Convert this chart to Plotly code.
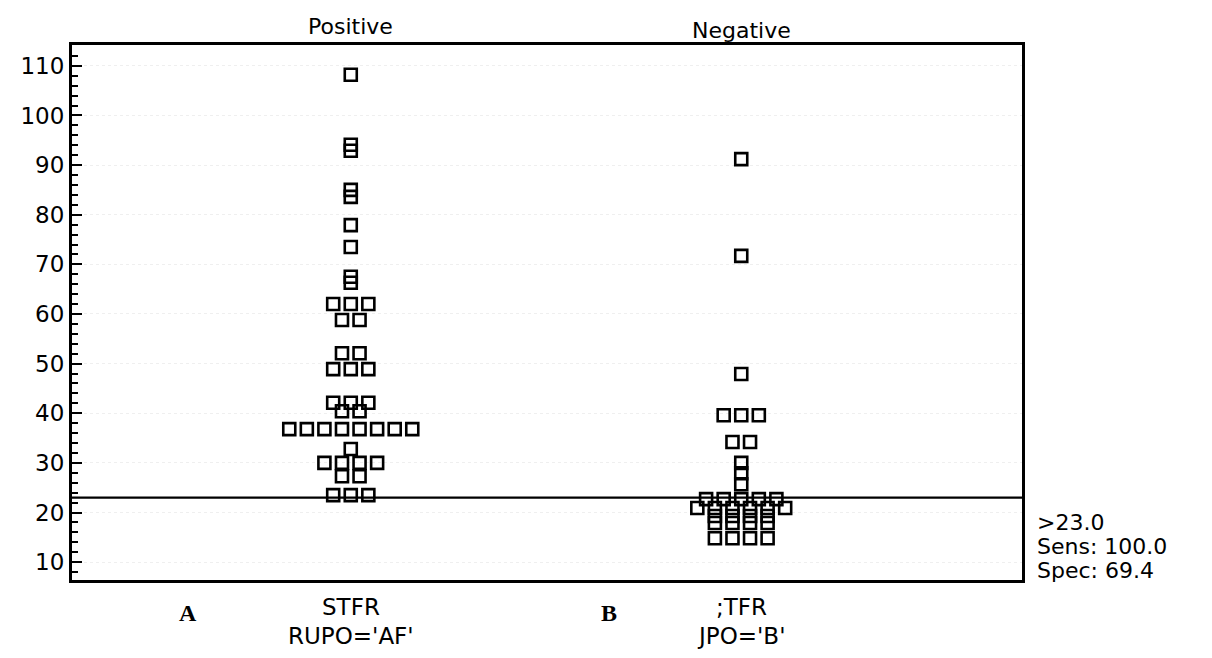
import numpy as np
import plotly.graph_objects as go

# ---- data ----
groups = ["Positive", "Negative"]
pos_values = ([108.2, 94.1, 92.9, 85.0, 83.6, 77.9, 73.5, 67.5, 66.3]
              + [62.0] * 3 + [58.8] * 2 + [52.1] * 2 + [48.9] * 3
              + [42.1] * 3 + [40.4] * 2 + [36.8] * 8 + [32.8]
              + [30.0] * 4 + [27.3] * 2 + [23.5] * 3)
neg_values = ([91.2, 71.7, 47.9] + [39.6] * 3 + [34.2] * 2
              + [30.0, 27.9, 25.7] + [22.7] * 5 + [20.9] * 6
              + [19.3] * 4 + [17.9] * 4 + [14.8] * 4)
cutoff = 23.0
sens = 100.0
spec = 69.4
y_ticks = list(range(10, 111, 10))
bottom_labels = [("STFR", "RUPO='AF'"), (";TFR", "JPO='B'")]
panel_letters = ["A", "B"]

# ---- layout geometry (page has a body margin) ----
OFFX, OFFY = 11, 8
W, H = 1212 - 2 * OFFX, 658 - 2 * OFFY
PL, PT, PR, PB = 64, 45, 1025, 580          # plot box in window pixels
L, T = PL - OFFX, PT - OFFY
PW, PH = PR - PL, PB - PT
R, B = W - L - PW, H - T - PH
STEP = 0.045
C0, C1 = 346, 741                            # column centres in window pixels
unit = C1 - C0
x_range = [-(C0 - PL) / unit, (PR - C0) / unit]


def px_x(px):
    return (px - PL) / PW


def px_y(py):
    return (PB - py) / PH


def dot_offsets(values, step):
    vals = np.array(values)
    offs = np.zeros(len(vals))
    for v in np.unique(vals):
        idx = np.where(vals == v)[0]
        n = len(idx)
        offs[idx] = (np.arange(n) - (n - 1) / 2) * step
    return offs


fig = go.Figure()
for gi, vals in enumerate([pos_values, neg_values]):
    xs = gi + dot_offsets(vals, STEP)
    fig.add_trace(go.Scatter(
        x=xs, y=vals, mode="markers", name=groups[gi],
        marker=dict(symbol="square-open", size=12, color="black",
                    line=dict(width=2.6, color="black")),
        showlegend=False, hoverinfo="y"))

fig.add_shape(type="line", xref="paper", x0=0, x1=1, yref="y",
              y0=cutoff, y1=cutoff, line=dict(color="black", width=2.2))

font = "DejaVu Sans, Arial, sans-serif"
ann = []
for gi, g in enumerate(groups):
    ann.append(dict(x=gi, xref="x", y=px_y(26 if gi == 0 else 30), yref="paper",
                    text=g, showarrow=False, font=dict(size=22, family=font, color="black"),
                    xanchor="center", yanchor="middle"))
    ann.append(dict(x=gi, xref="x", y=px_y(607), yref="paper",
                    text=bottom_labels[gi][0], showarrow=False,
                    font=dict(size=23, family=font, color="black"),
                    xanchor="center", yanchor="middle"))
    ann.append(dict(x=gi, xref="x", y=px_y(636), yref="paper",
                    text=bottom_labels[gi][1], showarrow=False,
                    font=dict(size=23, family=font, color="black"),
                    xanchor="center", yanchor="middle"))
for px, letter in zip([181, 607], panel_letters):
    ann.append(dict(x=px_x(px), xref="paper", y=px_y(613), yref="paper",
                    text="<b>" + letter + "</b>", showarrow=False,
                    font=dict(size=24, family="Liberation Serif, Times New Roman, serif",
                              color="black"),
                    xanchor="center", yanchor="middle"))
right_text = [">%.1f" % cutoff, "Sens: %.1f" % sens, "Spec: %.1f" % spec]
for py, t in zip([522, 546, 570], right_text):
    ann.append(dict(x=px_x(1038), xref="paper", y=px_y(py), yref="paper",
                    text=t, showarrow=False, font=dict(size=22, family=font, color="black"),
                    xanchor="left", yanchor="middle"))

fig.update_layout(
    width=W, height=H,
    margin=dict(l=L, r=R, t=T, b=B, pad=0),
    paper_bgcolor="white", plot_bgcolor="white",
    annotations=ann,
    xaxis=dict(range=x_range, showticklabels=False, ticks="",
               showgrid=False, zeroline=False, showline=True, mirror=True,
               linecolor="black", linewidth=3),
    yaxis=dict(range=[6.4, 114.2], tickvals=y_ticks, ticks="inside", ticklen=10,
               tickwidth=2, tickcolor="black",
               tickfont=dict(size=23, family=font, color="black"),
               minor=dict(dtick=2, ticks="inside", ticklen=6, tickwidth=1.5,
                          tickcolor="black", showgrid=False),
               showgrid=True, gridcolor="#efefef", griddash="dot", gridwidth=1,
               zeroline=False, showline=True, mirror=True,
               linecolor="black", linewidth=3),
)

fig.write_html("out.html")
